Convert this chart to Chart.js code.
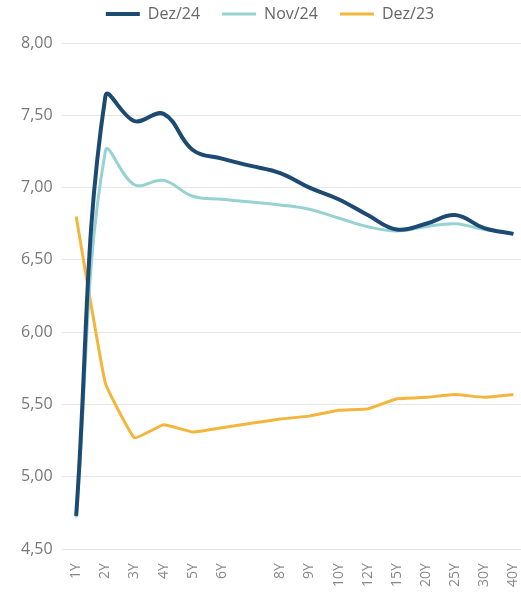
<!DOCTYPE html>
<html>
<head>
<meta charset="utf-8">
<script src="https://cdn.jsdelivr.net/npm/chart.js@4/dist/chart.umd.min.js"></script>
<style>
  html, body { margin: 0; padding: 0; background: #fff; overflow: hidden; }
  /* o canvas passa um pouco da borda direita: o último vértice fica rente à margem */
  #wrap { width: 521px; height: 605px; overflow: hidden; }
</style>
</head>
<body>
<div id="wrap"><canvas id="curveChart" width="528" height="605"></canvas></div>
<script>
// Vértices da curva (7Y entra na série mas sem rótulo no eixo)
const tenors = ['1Y','2Y','3Y','4Y','5Y','6Y','7Y','8Y','9Y','10Y','12Y','15Y','20Y','25Y','30Y','40Y'];
const hiddenTicks = ['7Y'];

const dez24 = [4.73, 7.63, 7.46, 7.51, 7.26, 7.20, 7.15, 7.10, 7.00, 6.92, 6.81, 6.71, 6.75, 6.81, 6.72, 6.68];
const nov24 = [4.72, 7.25, 7.02, 7.05, 6.94, 6.92, 6.90, 6.88, 6.85, 6.79, 6.73, 6.70, 6.73, 6.75, 6.71, 6.68];
const dez23 = [6.80, 5.65, 5.27, 5.36, 5.31, 5.34, 5.37, 5.40, 5.42, 5.46, 5.47, 5.54, 5.55, 5.57, 5.55, 5.57];

const yTicks = [4.5, 5.0, 5.5, 6.0, 6.5, 7.0, 7.5, 8.0];

const FONT = "'Open Sans', 'Noto Sans', sans-serif";
const fmtComma = v => v.toFixed(2).replace('.', ',');

// espaço extra entre a legenda e a área do gráfico
const legendGap = {
  id: 'legendGap',
  afterInit(chart) {
    const fit = chart.legend.fit;
    chart.legend.fit = function () { fit.call(this); this.height += 11; };
  }
};

new Chart(document.getElementById('curveChart'), {
  type: 'line',
  data: {
    labels: tenors,
    datasets: [
      { label: 'Dez/24', data: dez24, borderColor: '#1d4a72', backgroundColor: '#1d4a72',
        borderWidth: 4, tension: 0.4, pointRadius: 0, pointStyle: 'line' },
      { label: 'Nov/24', data: nov24, borderColor: '#96d2d2', backgroundColor: '#96d2d2',
        borderWidth: 3, tension: 0.4, pointRadius: 0, pointStyle: 'line' },
      { label: 'Dez/23', data: dez23, borderColor: '#f3b53c', backgroundColor: '#f3b53c',
        borderWidth: 3, tension: 0.1, pointRadius: 0, pointStyle: 'line' }
    ]
  },
  plugins: [legendGap],
  options: {
    responsive: false,
    animation: false,
    // topo negativo: a legenda usa padding largo entre itens, mas fica colada ao topo
    layout: { padding: { left: 12, right: 0, top: -16, bottom: 4 } },
    plugins: {
      legend: {
        position: 'top',
        labels: {
          usePointStyle: true, pointStyleWidth: 34,
          color: '#666', font: { family: FONT, size: 16 }, padding: 22
        }
      },
      tooltip: { enabled: false }
    },
    scales: {
      x: {
        offset: true,
        grid: { display: false, drawTicks: false },
        border: { display: false },
        ticks: {
          minRotation: 90, maxRotation: 90, autoSkip: false, padding: 14,
          color: '#888', font: { family: FONT, size: 14 },
          callback: (v, i) => hiddenTicks.includes(tenors[i]) ? '' : tenors[i]
        },
        // sem folga extra à direita para o último rótulo girado
        afterFit: s => { s.paddingRight = 0; }
      },
      y: {
        min: 4.5, max: 8.0,
        afterBuildTicks: axis => { axis.ticks = yTicks.map(v => ({ value: v })); },
        grid: { color: '#e6e6e6', lineWidth: 1, drawTicks: false },
        border: { display: false },
        ticks: {
          padding: 9, color: '#777', font: { family: FONT, size: 16 },
          callback: v => fmtComma(v)
        }
      }
    }
  }
});
</script>
</body>
</html>
